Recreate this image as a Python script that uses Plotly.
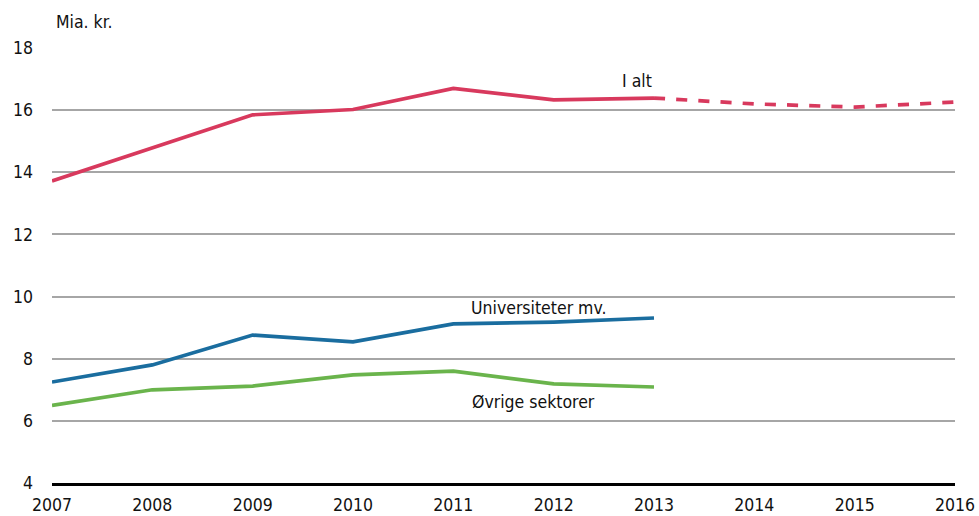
import plotly.graph_objects as go

years = [2007, 2008, 2009, 2010, 2011, 2012, 2013, 2014, 2015, 2016]
i_alt = [13.72, 14.78, 15.85, 16.02, 16.70, 16.33, 16.39, 16.20, 16.10, 16.26]
universiteter = [7.25, 7.80, 8.76, 8.54, 9.12, 9.18, 9.31]
ovrige = [6.50, 7.00, 7.12, 7.48, 7.60, 7.19, 7.09]
y_ticks = [4, 6, 8, 10, 12, 14, 16, 18]

RED = "#d8395d"
BLUE = "#1a6d9f"
GREEN = "#6ab44c"
FONT = "DejaVu Sans Condensed, Roboto, sans-serif"
FS = 17.5

fig = go.Figure()
fig.add_trace(go.Scatter(x=years[:7], y=i_alt[:7], mode="lines",
                         line=dict(color=RED, width=3.7), showlegend=False))
fig.add_trace(go.Scatter(x=years[6:], y=i_alt[6:], mode="lines",
                         line=dict(color=RED, width=3.7, dash="dash"), showlegend=False))
fig.add_trace(go.Scatter(x=years[:7], y=universiteter, mode="lines",
                         line=dict(color=BLUE, width=3.7), showlegend=False))
fig.add_trace(go.Scatter(x=years[:7], y=ovrige, mode="lines",
                         line=dict(color=GREEN, width=3.7), showlegend=False))

fig.add_annotation(x=2012.83, y=16.95, text="I alt", showarrow=False,
                   font=dict(family=FONT, size=FS, color="#111"))
fig.add_annotation(x=2011.85, y=9.62, text="Universiteter mv.", showarrow=False,
                   font=dict(family=FONT, size=FS, color="#111"))
fig.add_annotation(x=2011.8, y=6.6, text="Øvrige sektorer", showarrow=False,
                   font=dict(family=FONT, size=FS, color="#111"))
fig.add_annotation(x=0, xref="paper", y=1.0, yref="paper", yanchor="bottom", yshift=14,
                   xanchor="left", xshift=2, text="Mia. kr.", showarrow=False,
                   font=dict(family=FONT, size=FS, color="#111"))

fig.update_layout(
    width=979, height=516,
    margin=dict(l=52, r=24, t=48, b=33),
    plot_bgcolor="white", paper_bgcolor="white",
    font=dict(family=FONT, size=FS, color="#111"),
)
fig.update_xaxes(range=[2007, 2016], tickvals=years, ticktext=[str(y) for y in years],
                 showgrid=False, zeroline=False, showline=True, linecolor="black",
                 linewidth=2.5, ticks="", automargin=False, ticklabeloverflow="allow",
                 ticklabelstandoff=4,
                 tickfont=dict(family=FONT, size=FS, color="#111"))
fig.update_yaxes(range=[4, 18], tickvals=y_ticks, showgrid=True, gridcolor="#a6a6a6",
                 gridwidth=1.5, zeroline=False, showline=False, ticks="",
                 ticklabelstandoff=18, automargin=False,
                 tickfont=dict(family=FONT, size=FS, color="#111"))

fig.write_html("out.html", config={"displayModeBar": False},
               post_script="document.body.style.margin='0';document.body.style.overflow='hidden';")
